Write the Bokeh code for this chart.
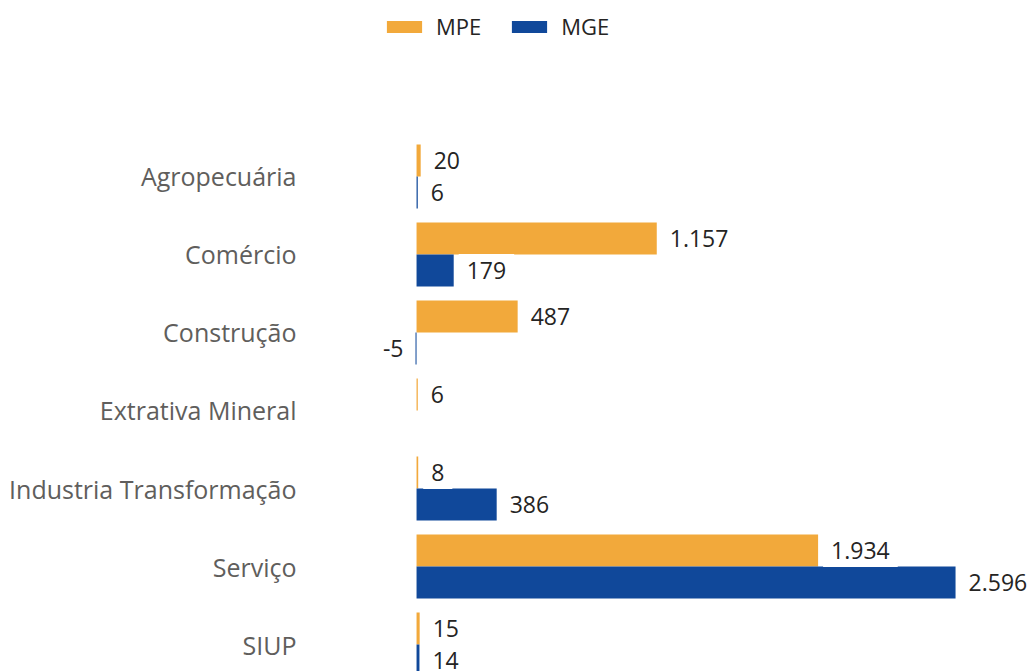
from bokeh.plotting import figure
from bokeh.models import ColumnDataSource, Range1d, FixedTicker, Legend, LegendItem
from bokeh.core.properties import value
from bokeh.embed import file_html
from bokeh.resources import INLINE
import math

categories = ["Agropecuária", "Comércio", "Construção", "Extrativa Mineral",
              "Industria Transformação", "Serviço", "SIUP"]
mpe = [20, 1157, 487, 6, 8, 1934, 15]
mge = [6, 179, -5, float("nan"), 386, 2596, 14]

ORANGE = "#F2A93B"
BLUE = "#10489A"
FONT = "Open Sans"

n = len(categories)
ypos = [n - 1 - i for i in range(n)]
bar_h = 0.41

def fmt(v):
    return f"{int(v):,}".replace(",", ".")

p = figure(width=1030, height=671, output_backend="svg", toolbar_location=None,
           x_range=Range1d(-530, 2957), y_range=Range1d(-0.346, 8.256),
           x_axis_location=None, min_border_left=306, min_border_right=0,
           min_border_top=0, min_border_bottom=0)
p.outline_line_color = None
p.xgrid.visible = False
p.ygrid.visible = False
p.background_fill_color = "white"

src_mpe = ColumnDataSource(dict(y=[y + bar_h / 2 for y in ypos], v=mpe,
                                lab=[fmt(v) for v in mpe]))
mge_y = [y - bar_h / 2 for y in ypos]
src_mge = ColumnDataSource(dict(y=[y for y, v in zip(mge_y, mge) if not math.isnan(v)],
                                v=[v for v in mge if not math.isnan(v)],
                                lab=[fmt(v) for v in mge if not math.isnan(v)]))

r1 = p.hbar(y="y", left=0, right="v", height=bar_h, source=src_mpe,
            fill_color=ORANGE, line_color=None)
r2 = p.hbar(y="y", left=0, right="v", height=bar_h, source=src_mge,
            fill_color=BLUE, line_color=None)

def add_labels(src):
    d = src.data
    pos = ColumnDataSource(dict(y=[y for y, v in zip(d["y"], d["v"]) if v >= 0],
                                v=[v for v in d["v"] if v >= 0],
                                lab=[l for l, v in zip(d["lab"], d["v"]) if v >= 0]))
    neg = ColumnDataSource(dict(y=[y for y, v in zip(d["y"], d["v"]) if v < 0],
                                v=[v for v in d["v"] if v < 0],
                                lab=[l for l, v in zip(d["lab"], d["v"]) if v < 0]))
    for s, align, off in ((pos, "left", 5), (neg, "right", -4)):
        p.text(x="v", y="y", text="lab", source=s, text_align=align,
               text_baseline="middle", x_offset=off,
               text_font=value(FONT), text_font_size="23px", text_color="#252423",
               background_fill_color="white", padding=8)

add_labels(src_mpe)
add_labels(src_mge)

ax = p.yaxis[0]
ax.ticker = FixedTicker(ticks=ypos)
ax.major_label_overrides = {y: c for y, c in zip(ypos, categories)}
ax.axis_line_color = None
ax.major_tick_line_color = None
ax.major_tick_out = 0
ax.major_tick_in = 0
ax.minor_tick_line_color = None
ax.major_label_standoff = 10
ax.major_label_text_font = FONT
ax.major_label_text_font_size = "25px"
ax.major_label_text_color = "#605E5C"

legend = Legend(items=[LegendItem(label="MPE", renderers=[r1]),
                       LegendItem(label="MGE", renderers=[r2])],
                orientation="horizontal", location=(76, 630),
                glyph_width=44, glyph_height=15, label_standoff=10, spacing=26,
                padding=0, margin=0, border_line_color=None,
                background_fill_alpha=0, label_text_font=FONT,
                label_text_font_size="22px", label_text_color="#252423")
p.add_layout(legend, "center")

open("out.html", "w").write(file_html(p, INLINE))
